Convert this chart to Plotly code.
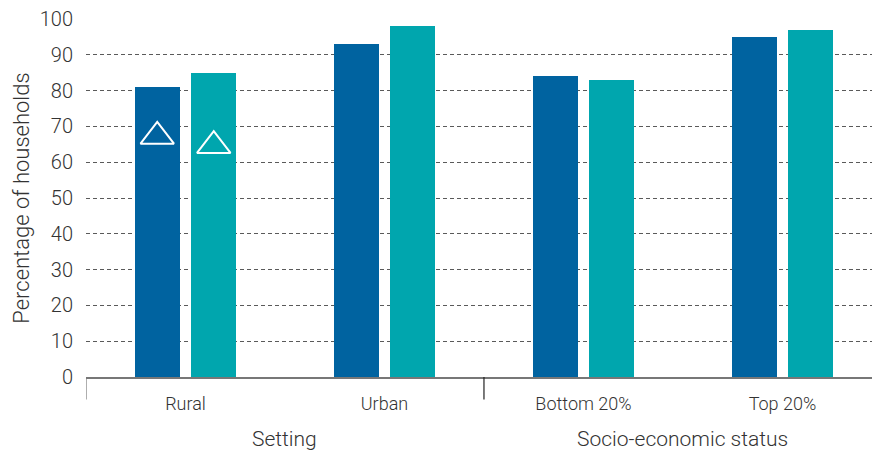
import plotly.graph_objects as go

categories = ["Rural", "Urban", "Bottom 20%", "Top 20%"]
series_a = [81, 93, 84, 95]
series_b = [85, 98, 83, 97]
groups = ["Setting", "Socio-economic status"]
group_members = [[0, 1], [2, 3]]
marker_a = [67.2, None, None, None]
marker_b = [64.6, None, None, None]
y_ticks = list(range(0, 101, 10))

DARK = "#0063A0"
TEAL = "#00A6AE"
FONT = "Roboto"
TXT = "#333333"

off = 0.142
bw = 0.226
xs = list(range(len(categories)))
xa = [x - off for x in xs]
xb = [x + off for x in xs]

fig = go.Figure()
fig.add_trace(go.Bar(x=xa, y=series_a, width=bw, marker=dict(color=DARK, line=dict(width=0)),
                     showlegend=False, hoverinfo="y"))
fig.add_trace(go.Bar(x=xb, y=series_b, width=bw, marker=dict(color=TEAL, line=dict(width=0)),
                     showlegend=False, hoverinfo="y"))
fig.add_trace(go.Scatter(x=xa, y=marker_a, mode="markers", showlegend=False,
                         marker=dict(symbol="triangle-up-open", size=29, color="white",
                                     line=dict(width=2, color="white"))))
fig.add_trace(go.Scatter(x=xb, y=marker_b, mode="markers", showlegend=False,
                         marker=dict(symbol="triangle-up-open", size=29, color="white",
                                     line=dict(width=2, color="white"))))

shapes = []
shapes.append(dict(type="line", xref="x", yref="paper", x0=-0.5, x1=-0.5, y0=0, y1=-0.063,
                   line=dict(color="#777777", width=1.2)))
shapes.append(dict(type="line", xref="x", yref="paper", x0=1.5, x1=1.5, y0=0, y1=-0.063,
                   line=dict(color="#222222", width=1.2)))

annotations = []
for g, mem in zip(groups, group_members):
    cx = sum(mem) / len(mem)
    annotations.append(dict(x=cx, y=-0.173, xref="x", yref="paper", text=g, showarrow=False,
                            xanchor="center", yanchor="middle",
                            font=dict(family=FONT, size=21, color=TXT, weight=300)))

fig.update_layout(
    width=872, height=452,
    margin=dict(l=86, r=0, t=19, b=75),
    paper_bgcolor="white", plot_bgcolor="white",
    bargap=0, barmode="overlay",
    shapes=shapes, annotations=annotations,
    font=dict(family=FONT, color=TXT),
)
fig.update_xaxes(range=[-0.5, 3.45], tickvals=xs, ticktext=categories, showgrid=False,
                 zeroline=False, showline=True, linecolor="#777777", linewidth=1.5,
                 ticks="", ticklabelstandoff=10, automargin=False,
                 tickfont=dict(family=FONT, size=18, color=TXT, weight=300))
fig.update_yaxes(range=[0, 100], tickvals=y_ticks, showgrid=True, gridcolor="#5a5a5a",
                 gridwidth=1, griddash="4px,3px", zeroline=False, showline=False,
                 ticks="", ticklabelstandoff=12, automargin=False,
                 tickfont=dict(family=FONT, size=20, color=TXT, weight=300),
                 title=dict(text="Percentage of households", standoff=4,
                            font=dict(family=FONT, size=22, color=TXT, weight=300)))

fig.write_html("out.html", config={"displayModeBar": False},
               post_script="document.body.style.margin='0';document.body.style.overflow='hidden';")
